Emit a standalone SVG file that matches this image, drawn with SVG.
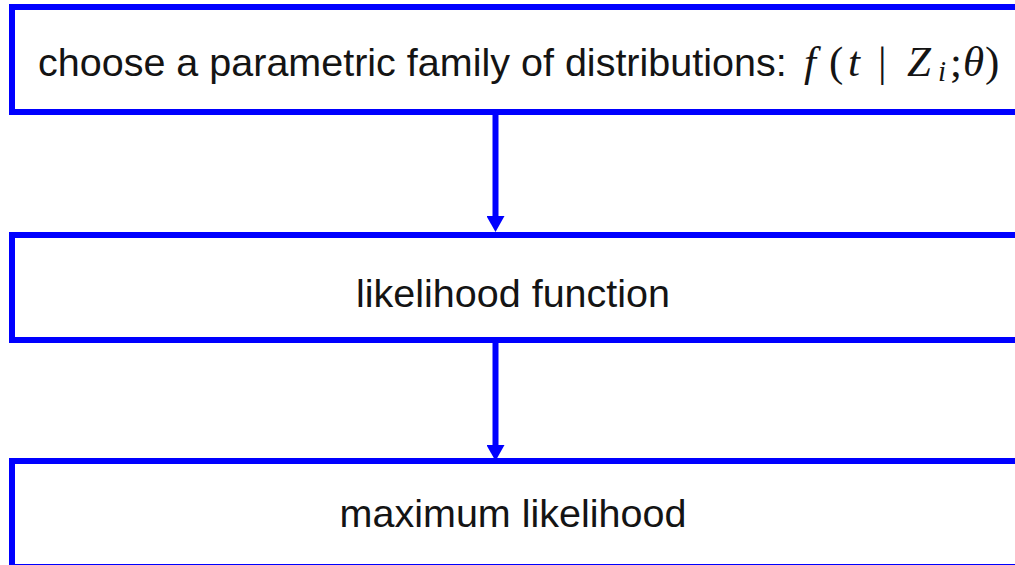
<svg xmlns="http://www.w3.org/2000/svg" width="1015" height="565" viewBox="0 0 1015 565">
<style>
.box{fill:#fff;stroke:#0000ff;stroke-width:6}
.lbl{font-family:"Liberation Sans",Arial,sans-serif;font-size:39.5px;fill:#141414}
.m{font-family:"Liberation Serif","Times New Roman",serif;font-size:43px;fill:#141414}
.mi{font-style:italic}
.conn{stroke:#0000ff;stroke-width:6;fill:none}
</style>
<defs>
<marker id="ah" markerUnits="userSpaceOnUse" viewBox="0 0 16 18" markerWidth="16" markerHeight="18" refX="6" refY="9" orient="auto">
<path d="M0,0 L16,9 L0,18 Z" fill="#0000ff"/>
</marker>
</defs>
<rect width="1015" height="565" fill="#fff"/>
<g id="connectors">
<line class="conn" x1="495.5" y1="112" x2="495.5" y2="222" marker-end="url(#ah)"/>
<line class="conn" x1="495.5" y1="340" x2="495.5" y2="451" marker-end="url(#ah)"/>
</g>
<g id="node1">
<rect class="box" x="12" y="7" width="1030" height="105"/>
<text class="lbl" x="38" y="76">choose a parametric family of distributions:</text>
<text class="m" y="76"><tspan class="mi" x="804">f</tspan><tspan x="829">(</tspan><tspan class="mi" x="848">t</tspan><tspan x="878">|</tspan><tspan class="mi" x="907">Z</tspan><tspan class="mi" x="938" y="81" font-size="29">i</tspan><tspan x="950" y="76">;</tspan><tspan class="mi" x="963">θ</tspan><tspan x="985">)</tspan></text>
</g>
<g id="node2">
<rect class="box" x="12" y="235" width="1030" height="105"/>
<text class="lbl" x="513" y="307" text-anchor="middle">likelihood function</text>
</g>
<g id="node3">
<rect class="box" x="12" y="461" width="1030" height="106"/>
<text class="lbl" x="513" y="527" text-anchor="middle">maximum likelihood</text>
</g>
</svg>
